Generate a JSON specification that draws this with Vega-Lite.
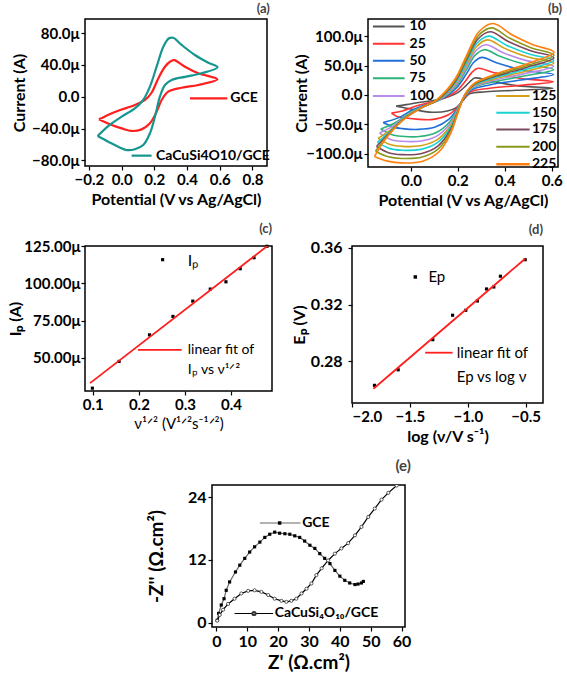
{
"$schema": "https://vega.github.io/schema/vega-lite/v6.json",
"padding": {"left": 6, "top": 2, "right": 0, "bottom": 0},
"background": "white",
"config": {
  "font": "Lato",
  "view": {"stroke": "black", "strokeWidth": 1.5},
  "axis": {"grid": false, "domain": false, "labelOverlap": false, "tickColor": "black", "tickSize": 4, "tickWidth": 1.2, "labelFont": "Lato", "labelFontWeight": "bold", "labelFontSize": 15, "labelColor": "black", "titleFont": "Lato", "titleFontWeight": "bold", "titleFontSize": 16, "titleColor": "black", "labelPadding": 2, "titlePadding": 4},
  "title": {"anchor": "end", "font": "Lato", "fontSize": 13, "fontWeight": "bold", "color": "#444", "offset": 3},
  "text": {"font": "Lato", "color": "black"}
},
"resolve": {"scale": {"color": "independent", "strokeWidth": "independent"}},
"concat": [
 {"hconcat": [
   {
    "width": 182, "height": 147,
    "title": {"text": "(a)"},
    "layer": [
     {"data": {"values": [
      {"s":"GCE","i":0,"v":-0.139,"c":-28.4},{"s":"GCE","i":1,"v":-0.08,"c":-22.5},{"s":"GCE","i":2,"v":-0.021,"c":-17.6},{"s":"GCE","i":3,"v":0.081,"c":-10.4},{"s":"GCE","i":4,"v":0.143,"c":-4.1},{"s":"GCE","i":5,"v":0.183,"c":5},{"s":"GCE","i":6,"v":0.224,"c":23},{"s":"GCE","i":7,"v":0.265,"c":37.7},{"s":"GCE","i":8,"v":0.3,"c":44.5},{"s":"GCE","i":9,"v":0.322,"c":46},{"s":"GCE","i":10,"v":0.387,"c":37.7},{"s":"GCE","i":11,"v":0.469,"c":29.4},{"s":"GCE","i":12,"v":0.585,"c":21.8},{"s":"GCE","i":13,"v":0.469,"c":14.7},{"s":"GCE","i":14,"v":0.367,"c":11.3},{"s":"GCE","i":15,"v":0.285,"c":6.3},{"s":"GCE","i":16,"v":0.245,"c":-4.1},{"s":"GCE","i":17,"v":0.214,"c":-18.8},{"s":"GCE","i":18,"v":0.173,"c":-33.4},{"s":"GCE","i":19,"v":0.122,"c":-41},{"s":"GCE","i":20,"v":0.061,"c":-43},{"s":"GCE","i":21,"v":0,"c":-39.7},{"s":"GCE","i":22,"v":-0.061,"c":-35.5},{"s":"GCE","i":23,"v":-0.139,"c":-28.4},
      {"s":"CaCu","i":0,"v":-0.147,"c":-49.4},{"s":"CaCu","i":1,"v":-0.082,"c":-36.8},{"s":"CaCu","i":2,"v":0,"c":-25},{"s":"CaCu","i":3,"v":0.081,"c":-14.6},{"s":"CaCu","i":4,"v":0.132,"c":-4.1},{"s":"CaCu","i":5,"v":0.173,"c":12.6},{"s":"CaCu","i":6,"v":0.214,"c":37.7},{"s":"CaCu","i":7,"v":0.255,"c":62.8},{"s":"CaCu","i":8,"v":0.29,"c":73.4},{"s":"CaCu","i":9,"v":0.315,"c":74},{"s":"CaCu","i":10,"v":0.367,"c":65},{"s":"CaCu","i":11,"v":0.448,"c":52.4},{"s":"CaCu","i":12,"v":0.53,"c":42.7},{"s":"CaCu","i":13,"v":0.587,"c":37},{"s":"CaCu","i":14,"v":0.489,"c":29.4},{"s":"CaCu","i":15,"v":0.387,"c":25},{"s":"CaCu","i":16,"v":0.306,"c":21},{"s":"CaCu","i":17,"v":0.265,"c":14.7},{"s":"CaCu","i":18,"v":0.234,"c":0},{"s":"CaCu","i":19,"v":0.204,"c":-25},{"s":"CaCu","i":20,"v":0.173,"c":-46},{"s":"CaCu","i":21,"v":0.132,"c":-60.7},{"s":"CaCu","i":22,"v":0.081,"c":-66},{"s":"CaCu","i":23,"v":0.031,"c":-67},{"s":"CaCu","i":24,"v":-0.021,"c":-62.8},{"s":"CaCu","i":25,"v":-0.082,"c":-56.5},{"s":"CaCu","i":26,"v":-0.147,"c":-49.4}
     ]},
     "mark": {"type": "line", "interpolate": "catmull-rom", "strokeWidth": 2.2, "clip": true},
     "encoding": {
      "x": {"field": "v", "type": "quantitative", "scale": {"domain": [-0.224, 0.889], "nice": false, "zero": false}, "axis": {"values": [-0.2,0,0.2,0.4,0.6,0.8], "tickCount": 30, "format": ".1f", "title": "Potential (V vs Ag/AgCl)", "labelOverlap": false}},
      "y": {"field": "c", "type": "quantitative", "scale": {"domain": [-87, 97.6], "nice": false, "zero": false}, "axis": {"values": [-80,-40,0,40,80], "tickCount": 30, "labelExpr": "datum.value == 0 ? '0.0' : format(datum.value, '.1f') + 'μ'", "title": "Current (A)", "titleX": -58, "labelOverlap": false}},
      "color": {"field": "s", "type": "nominal", "scale": {"domain": ["GCE","CaCu"], "range": ["#ff1f1f","#16968f"]}, "legend": null},
      "order": {"field": "i", "type": "quantitative"}
     }},
     {"data": {"values": [{}]}, "mark": {"type": "rule", "color": "#ff1f1f", "strokeWidth": 2.2}, "encoding": {"x": {"datum": 0.418}, "x2": {"datum": 0.646}, "y": {"datum": -2}}},
     {"data": {"values": [{}]}, "mark": {"type": "text", "align": "left", "baseline": "middle", "fontSize": 14, "fontWeight": "bold"}, "encoding": {"x": {"datum": 0.665}, "y": {"datum": -2}, "text": {"value": "GCE"}}},
     {"data": {"values": [{}]}, "mark": {"type": "rule", "color": "#16968f", "strokeWidth": 2.2}, "encoding": {"x": {"datum": 0.061}, "x2": {"datum": 0.183}, "y": {"datum": -74}}},
     {"data": {"values": [{}]}, "mark": {"type": "text", "align": "left", "baseline": "middle", "fontSize": 14, "fontWeight": "bold"}, "encoding": {"x": {"datum": 0.21}, "y": {"datum": -74}, "text": {"value": "CaCuSi4O10/GCE"}}}
    ]
   },
   {
    "width": 190, "height": 148,
    "title": {"text": "(b)"},
    "layer": [
     {"data": {"values": [
      {"s":"10","i":0,"v":-0.063,"c":-19},{"s":"10","i":1,"v":-0.02,"c":-16.5},{"s":"10","i":2,"v":0.04,"c":-12.5},{"s":"10","i":3,"v":0.108,"c":-8.6},{"s":"10","i":4,"v":0.16,"c":-3},{"s":"10","i":5,"v":0.2,"c":4},{"s":"10","i":6,"v":0.235,"c":16},{"s":"10","i":7,"v":0.255,"c":24},{"s":"10","i":8,"v":0.272,"c":29},{"s":"10","i":9,"v":0.33,"c":25},{"s":"10","i":10,"v":0.45,"c":16},{"s":"10","i":11,"v":0.606,"c":11.5},{"s":"10","i":12,"v":0.45,"c":8},{"s":"10","i":13,"v":0.32,"c":5.5},{"s":"10","i":14,"v":0.25,"c":2},{"s":"10","i":15,"v":0.225,"c":-8},{"s":"10","i":16,"v":0.195,"c":-21},{"s":"10","i":17,"v":0.155,"c":-27.5},{"s":"10","i":18,"v":0.09,"c":-29.5},{"s":"10","i":19,"v":0.02,"c":-25.5},{"s":"10","i":20,"v":-0.035,"c":-21.5},{"s":"10","i":21,"v":-0.05,"c":-20},{"s":"10","i":22,"v":-0.063,"c":-19},
      {"s":"25","i":0,"v":-0.083,"c":-31},{"s":"25","i":1,"v":-0.036,"c":-27.2},{"s":"25","i":2,"v":0.026,"c":-18.4},{"s":"25","i":3,"v":0.096,"c":-11.2},{"s":"25","i":4,"v":0.151,"c":-4},{"s":"25","i":5,"v":0.198,"c":8},{"s":"25","i":6,"v":0.236,"c":25.7},{"s":"25","i":7,"v":0.261,"c":39.1},{"s":"25","i":8,"v":0.286,"c":45.7},{"s":"25","i":9,"v":0.348,"c":39},{"s":"25","i":10,"v":0.463,"c":28.6},{"s":"25","i":11,"v":0.607,"c":22.6},{"s":"25","i":12,"v":0.459,"c":16.3},{"s":"25","i":13,"v":0.329,"c":11.2},{"s":"25","i":14,"v":0.254,"c":5.2},{"s":"25","i":15,"v":0.226,"c":-6.2},{"s":"25","i":16,"v":0.197,"c":-21.7},{"s":"25","i":17,"v":0.158,"c":-34.3},{"s":"25","i":18,"v":0.095,"c":-41.7},{"s":"25","i":19,"v":0.025,"c":-41.3},{"s":"25","i":20,"v":-0.036,"c":-38.5},{"s":"25","i":21,"v":-0.059,"c":-36.7},{"s":"25","i":22,"v":-0.083,"c":-31},
      {"s":"50","i":0,"v":-0.119,"c":-47},{"s":"50","i":1,"v":-0.054,"c":-39.1},{"s":"50","i":2,"v":0.01,"c":-24.9},{"s":"50","i":3,"v":0.082,"c":-14.1},{"s":"50","i":4,"v":0.14,"c":-5.1},{"s":"50","i":5,"v":0.195,"c":12.4},{"s":"50","i":6,"v":0.237,"c":36.5},{"s":"50","i":7,"v":0.268,"c":55.9},{"s":"50","i":8,"v":0.302,"c":64.3},{"s":"50","i":9,"v":0.368,"c":54.6},{"s":"50","i":10,"v":0.477,"c":42.6},{"s":"50","i":11,"v":0.608,"c":34.9},{"s":"50","i":12,"v":0.469,"c":25.5},{"s":"50","i":13,"v":0.339,"c":17.5},{"s":"50","i":14,"v":0.258,"c":8.8},{"s":"50","i":15,"v":0.228,"c":-4.2},{"s":"50","i":16,"v":0.199,"c":-22.5},{"s":"50","i":17,"v":0.161,"c":-41.8},{"s":"50","i":18,"v":0.101,"c":-55.2},{"s":"50","i":19,"v":0.031,"c":-58.8},{"s":"50","i":20,"v":-0.037,"c":-57.4},{"s":"50","i":21,"v":-0.069,"c":-55.3},{"s":"50","i":22,"v":-0.119,"c":-47},
      {"s":"75","i":0,"v":-0.129,"c":-58},{"s":"75","i":1,"v":-0.067,"c":-47.4},{"s":"75","i":2,"v":-0.002,"c":-29.4},{"s":"75","i":3,"v":0.073,"c":-16.1},{"s":"75","i":4,"v":0.133,"c":-5.9},{"s":"75","i":5,"v":0.193,"c":15.4},{"s":"75","i":6,"v":0.238,"c":44.1},{"s":"75","i":7,"v":0.273,"c":67.7},{"s":"75","i":8,"v":0.313,"c":77.4},{"s":"75","i":9,"v":0.382,"c":65.6},{"s":"75","i":10,"v":0.486,"c":52.4},{"s":"75","i":11,"v":0.608,"c":43.5},{"s":"75","i":12,"v":0.476,"c":31.9},{"s":"75","i":13,"v":0.346,"c":21.9},{"s":"75","i":14,"v":0.26,"c":11.4},{"s":"75","i":15,"v":0.229,"c":-2.8},{"s":"75","i":16,"v":0.2,"c":-23.1},{"s":"75","i":17,"v":0.163,"c":-47},{"s":"75","i":18,"v":0.106,"c":-64.6},{"s":"75","i":19,"v":0.036,"c":-71},{"s":"75","i":20,"v":-0.038,"c":-70.6},{"s":"75","i":21,"v":-0.076,"c":-68.4},{"s":"75","i":22,"v":-0.129,"c":-58},
      {"s":"100","i":0,"v":-0.134,"c":-65},{"s":"100","i":1,"v":-0.075,"c":-52.8},{"s":"100","i":2,"v":-0.009,"c":-32.3},{"s":"100","i":3,"v":0.067,"c":-17.4},{"s":"100","i":4,"v":0.128,"c":-6.4},{"s":"100","i":5,"v":0.192,"c":17.4},{"s":"100","i":6,"v":0.238,"c":48.9},{"s":"100","i":7,"v":0.276,"c":75.2},{"s":"100","i":8,"v":0.32,"c":85.7},{"s":"100","i":9,"v":0.391,"c":72.6},{"s":"100","i":10,"v":0.493,"c":58.7},{"s":"100","i":11,"v":0.608,"c":49},{"s":"100","i":12,"v":0.481,"c":36.1},{"s":"100","i":13,"v":0.351,"c":24.7},{"s":"100","i":14,"v":0.262,"c":13},{"s":"100","i":15,"v":0.229,"c":-1.9},{"s":"100","i":16,"v":0.201,"c":-23.4},{"s":"100","i":17,"v":0.164,"c":-50.4},{"s":"100","i":18,"v":0.108,"c":-70.7},{"s":"100","i":19,"v":0.038,"c":-78.9},{"s":"100","i":20,"v":-0.038,"c":-79.1},{"s":"100","i":21,"v":-0.081,"c":-76.7},{"s":"100","i":22,"v":-0.134,"c":-65},
      {"s":"125","i":0,"v":-0.14,"c":-74},{"s":"125","i":1,"v":-0.083,"c":-58.2},{"s":"125","i":2,"v":-0.016,"c":-35.3},{"s":"125","i":3,"v":0.06,"c":-18.7},{"s":"125","i":4,"v":0.124,"c":-6.9},{"s":"125","i":5,"v":0.19,"c":19.4},{"s":"125","i":6,"v":0.239,"c":53.8},{"s":"125","i":7,"v":0.28,"c":82.8},{"s":"125","i":8,"v":0.327,"c":94.1},{"s":"125","i":9,"v":0.4,"c":79.6},{"s":"125","i":10,"v":0.499,"c":65},{"s":"125","i":11,"v":0.609,"c":54.5},{"s":"125","i":12,"v":0.485,"c":40.2},{"s":"125","i":13,"v":0.355,"c":27.5},{"s":"125","i":14,"v":0.264,"c":14.6},{"s":"125","i":15,"v":0.23,"c":-1},{"s":"125","i":16,"v":0.202,"c":-23.8},{"s":"125","i":17,"v":0.166,"c":-53.8},{"s":"125","i":18,"v":0.111,"c":-76.8},{"s":"125","i":19,"v":0.041,"c":-86.8},{"s":"125","i":20,"v":-0.039,"c":-87.7},{"s":"125","i":21,"v":-0.085,"c":-85.1},{"s":"125","i":22,"v":-0.14,"c":-74},
      {"s":"150","i":0,"v":-0.143,"c":-81},{"s":"150","i":1,"v":-0.089,"c":-62.3},{"s":"150","i":2,"v":-0.022,"c":-37.5},{"s":"150","i":3,"v":0.056,"c":-19.7},{"s":"150","i":4,"v":0.12,"c":-7.3},{"s":"150","i":5,"v":0.189,"c":20.9},{"s":"150","i":6,"v":0.239,"c":57.6},{"s":"150","i":7,"v":0.282,"c":88.7},{"s":"150","i":8,"v":0.332,"c":100.6},{"s":"150","i":9,"v":0.407,"c":85.1},{"s":"150","i":10,"v":0.504,"c":69.9},{"s":"150","i":11,"v":0.609,"c":58.9},{"s":"150","i":12,"v":0.489,"c":43.4},{"s":"150","i":13,"v":0.359,"c":29.8},{"s":"150","i":14,"v":0.265,"c":15.9},{"s":"150","i":15,"v":0.23,"c":-0.3},{"s":"150","i":16,"v":0.203,"c":-24.1},{"s":"150","i":17,"v":0.167,"c":-56.4},{"s":"150","i":18,"v":0.113,"c":-81.5},{"s":"150","i":19,"v":0.043,"c":-92.9},{"s":"150","i":20,"v":-0.039,"c":-94.3},{"s":"150","i":21,"v":-0.089,"c":-91.6},{"s":"150","i":22,"v":-0.143,"c":-81},
      {"s":"175","i":0,"v":-0.147,"c":-88},{"s":"175","i":1,"v":-0.097,"c":-67.1},{"s":"175","i":2,"v":-0.028,"c":-40.1},{"s":"175","i":3,"v":0.05,"c":-20.8},{"s":"175","i":4,"v":0.116,"c":-7.8},{"s":"175","i":5,"v":0.188,"c":22.7},{"s":"175","i":6,"v":0.239,"c":61.9},{"s":"175","i":7,"v":0.285,"c":95.4},{"s":"175","i":8,"v":0.338,"c":108},{"s":"175","i":9,"v":0.415,"c":91.3},{"s":"175","i":10,"v":0.51,"c":75.5},{"s":"175","i":11,"v":0.609,"c":63.8},{"s":"175","i":12,"v":0.493,"c":47.1},{"s":"175","i":13,"v":0.363,"c":32.3},{"s":"175","i":14,"v":0.267,"c":17.3},{"s":"175","i":15,"v":0.231,"c":0.5},{"s":"175","i":16,"v":0.204,"c":-24.4},{"s":"175","i":17,"v":0.168,"c":-59.4},{"s":"175","i":18,"v":0.116,"c":-86.9},{"s":"175","i":19,"v":0.046,"c":-99.9},{"s":"175","i":20,"v":-0.039,"c":-101.8},{"s":"175","i":21,"v":-0.093,"c":-99},{"s":"175","i":22,"v":-0.147,"c":-88},
      {"s":"200","i":0,"v":-0.151,"c":-96},{"s":"200","i":1,"v":-0.103,"c":-71.2},{"s":"200","i":2,"v":-0.034,"c":-42.4},{"s":"200","i":3,"v":0.045,"c":-21.8},{"s":"200","i":4,"v":0.112,"c":-8.2},{"s":"200","i":5,"v":0.187,"c":24.2},{"s":"200","i":6,"v":0.24,"c":65.7},{"s":"200","i":7,"v":0.287,"c":101.3},{"s":"200","i":8,"v":0.344,"c":114.6},{"s":"200","i":9,"v":0.422,"c":96.8},{"s":"200","i":10,"v":0.514,"c":80.4},{"s":"200","i":11,"v":0.61,"c":68.1},{"s":"200","i":12,"v":0.496,"c":50.3},{"s":"200","i":13,"v":0.366,"c":34.5},{"s":"200","i":14,"v":0.268,"c":18.6},{"s":"200","i":15,"v":0.231,"c":1.2},{"s":"200","i":16,"v":0.204,"c":-24.7},{"s":"200","i":17,"v":0.169,"c":-62},{"s":"200","i":18,"v":0.118,"c":-91.6},{"s":"200","i":19,"v":0.048,"c":-106},{"s":"200","i":20,"v":-0.04,"c":-108.4},{"s":"200","i":21,"v":-0.096,"c":-105.6},{"s":"200","i":22,"v":-0.151,"c":-96},
      {"s":"225","i":0,"v":-0.155,"c":-105},{"s":"225","i":1,"v":-0.11,"c":-76},{"s":"225","i":2,"v":-0.04,"c":-45},{"s":"225","i":3,"v":0.04,"c":-23},{"s":"225","i":4,"v":0.108,"c":-8.6},{"s":"225","i":5,"v":0.186,"c":26},{"s":"225","i":6,"v":0.24,"c":70},{"s":"225","i":7,"v":0.29,"c":108},{"s":"225","i":8,"v":0.35,"c":122},{"s":"225","i":9,"v":0.43,"c":103},{"s":"225","i":10,"v":0.52,"c":86},{"s":"225","i":11,"v":0.61,"c":73},{"s":"225","i":12,"v":0.5,"c":54},{"s":"225","i":13,"v":0.37,"c":37},{"s":"225","i":14,"v":0.27,"c":20},{"s":"225","i":15,"v":0.232,"c":2},{"s":"225","i":16,"v":0.205,"c":-25},{"s":"225","i":17,"v":0.17,"c":-65},{"s":"225","i":18,"v":0.12,"c":-97},{"s":"225","i":19,"v":0.05,"c":-113},{"s":"225","i":20,"v":-0.04,"c":-116},{"s":"225","i":21,"v":-0.1,"c":-113},{"s":"225","i":22,"v":-0.155,"c":-105}
     ]},
     "mark": {"type": "line", "interpolate": "catmull-rom", "clip": true},
     "encoding": {
      "x": {"field": "v", "type": "quantitative", "scale": {"domain": [-0.183, 0.627], "nice": false, "zero": false}, "axis": {"values": [0,0.2,0.4,0.6], "tickCount": 30, "format": ".1f", "title": "Potential (V vs Ag/AgCl)", "labelOverlap": false}},
      "y": {"field": "c", "type": "quantitative", "scale": {"domain": [-123, 129.8], "nice": false, "zero": false}, "axis": {"values": [-100,-50,0,50,100], "tickCount": 30, "labelExpr": "datum.value == 0 ? '0.0' : format(datum.value, '.1f') + 'μ'", "title": "Current (A)", "titleX": -59, "labelOverlap": false}},
      "color": {"field": "s", "type": "nominal", "scale": {"domain": ["10","25","50","75","100","125","150","175","200","225"], "range": ["#555555","#ff3333","#1f6fd8","#2db37a","#b98be8","#d4a017","#19d3d3","#7b4a5e","#8c9a1c","#ff7f0e"]}, "legend": null},
      "strokeWidth": {"field": "s", "type": "ordinal", "scale": {"domain": ["10","25","50","75","100","125","150","175","200","225"], "range": [1.6,1.6,1.6,1.6,1.6,1.6,1.6,1.6,1.6,2.6]}, "legend": null},
      "order": {"field": "i", "type": "quantitative"}
     }},
     {"data": {"values": [{}]}, "mark": {"type": "rule", "color": "#555555", "strokeWidth": 2}, "encoding": {"x": {"datum": -0.162}, "x2": {"datum": -0.027}, "y": {"datum": 117}}},
     {"data": {"values": [{}]}, "mark": {"type": "rule", "color": "#ff3333", "strokeWidth": 2}, "encoding": {"x": {"datum": -0.162}, "x2": {"datum": -0.027}, "y": {"datum": 87.5}}},
     {"data": {"values": [{}]}, "mark": {"type": "rule", "color": "#1f6fd8", "strokeWidth": 2}, "encoding": {"x": {"datum": -0.162}, "x2": {"datum": -0.027}, "y": {"datum": 58.3}}},
     {"data": {"values": [{}]}, "mark": {"type": "rule", "color": "#2db37a", "strokeWidth": 2}, "encoding": {"x": {"datum": -0.162}, "x2": {"datum": -0.027}, "y": {"datum": 28.6}}},
     {"data": {"values": [{}]}, "mark": {"type": "rule", "color": "#b98be8", "strokeWidth": 2}, "encoding": {"x": {"datum": -0.162}, "x2": {"datum": -0.027}, "y": {"datum": -1.7}}},
     {"data": {"values": [{}]}, "mark": {"type": "rule", "color": "#d4a017", "strokeWidth": 2}, "encoding": {"x": {"datum": 0.364}, "x2": {"datum": 0.506}, "y": {"datum": -1.7}}},
     {"data": {"values": [{}]}, "mark": {"type": "rule", "color": "#19d3d3", "strokeWidth": 2}, "encoding": {"x": {"datum": 0.364}, "x2": {"datum": 0.506}, "y": {"datum": -30.3}}},
     {"data": {"values": [{}]}, "mark": {"type": "rule", "color": "#7b4a5e", "strokeWidth": 2}, "encoding": {"x": {"datum": 0.364}, "x2": {"datum": 0.506}, "y": {"datum": -58.8}}},
     {"data": {"values": [{}]}, "mark": {"type": "rule", "color": "#8c9a1c", "strokeWidth": 2}, "encoding": {"x": {"datum": 0.364}, "x2": {"datum": 0.506}, "y": {"datum": -88.6}}},
     {"data": {"values": [{}]}, "mark": {"type": "rule", "color": "#ff7f0e", "strokeWidth": 2.6}, "encoding": {"x": {"datum": 0.364}, "x2": {"datum": 0.506}, "y": {"datum": -118.3}}},
     {"data": {"values": [{}]}, "mark": {"type": "text", "align": "left", "baseline": "middle", "fontSize": 14, "fontWeight": "bold"}, "encoding": {"x": {"datum": -0.006}, "y": {"datum": 117}, "text": {"value": "10"}}},
     {"data": {"values": [{}]}, "mark": {"type": "text", "align": "left", "baseline": "middle", "fontSize": 14, "fontWeight": "bold"}, "encoding": {"x": {"datum": -0.006}, "y": {"datum": 87.5}, "text": {"value": "25"}}},
     {"data": {"values": [{}]}, "mark": {"type": "text", "align": "left", "baseline": "middle", "fontSize": 14, "fontWeight": "bold"}, "encoding": {"x": {"datum": -0.006}, "y": {"datum": 58.3}, "text": {"value": "50"}}},
     {"data": {"values": [{}]}, "mark": {"type": "text", "align": "left", "baseline": "middle", "fontSize": 14, "fontWeight": "bold"}, "encoding": {"x": {"datum": -0.006}, "y": {"datum": 28.6}, "text": {"value": "75"}}},
     {"data": {"values": [{}]}, "mark": {"type": "text", "align": "left", "baseline": "middle", "fontSize": 14, "fontWeight": "bold"}, "encoding": {"x": {"datum": -0.006}, "y": {"datum": -1.7}, "text": {"value": "100"}}},
     {"data": {"values": [{}]}, "mark": {"type": "text", "align": "left", "baseline": "middle", "fontSize": 14, "fontWeight": "bold"}, "encoding": {"x": {"datum": 0.516}, "y": {"datum": -1.7}, "text": {"value": "125"}}},
     {"data": {"values": [{}]}, "mark": {"type": "text", "align": "left", "baseline": "middle", "fontSize": 14, "fontWeight": "bold"}, "encoding": {"x": {"datum": 0.516}, "y": {"datum": -30.3}, "text": {"value": "150"}}},
     {"data": {"values": [{}]}, "mark": {"type": "text", "align": "left", "baseline": "middle", "fontSize": 14, "fontWeight": "bold"}, "encoding": {"x": {"datum": 0.516}, "y": {"datum": -58.8}, "text": {"value": "175"}}},
     {"data": {"values": [{}]}, "mark": {"type": "text", "align": "left", "baseline": "middle", "fontSize": 14, "fontWeight": "bold"}, "encoding": {"x": {"datum": 0.516}, "y": {"datum": -88.6}, "text": {"value": "200"}}},
     {"data": {"values": [{}]}, "mark": {"type": "text", "align": "left", "baseline": "middle", "fontSize": 14, "fontWeight": "bold"}, "encoding": {"x": {"datum": 0.516}, "y": {"datum": -118.3}, "text": {"value": "225"}}}
    ]
   }
 ], "spacing": 21, "resolve": {"scale": {"color": "independent", "strokeWidth": "independent"}}},
 {"hconcat": [
   {
    "width": 187, "height": 145,
    "title": {"text": "(c)"},
    "layer": [
     {"data": {"values": [
      {"x":0.099,"y":29.5},{"x":0.157,"y":47.5},{"x":0.223,"y":65.4},{"x":0.274,"y":77.8},{"x":0.317,"y":88.1},{"x":0.355,"y":96.2},{"x":0.389,"y":101.1},{"x":0.42,"y":109.9},{"x":0.45,"y":117.3},{"x":0.478,"y":125.0}
     ]},
      "mark": {"type": "square", "size": 10, "color": "black", "opacity": 1},
      "encoding": {
       "x": {"field": "x", "type": "quantitative", "scale": {"domain": [0.083, 0.489], "nice": false, "zero": false}, "axis": {"values": [0.1,0.2,0.3,0.4], "tickCount": 30, "format": ".1f", "title": "ν¹ᐟ² (V¹ᐟ²s⁻¹ᐟ²)", "titleFontWeight": "normal", "titleFontSize": 15, "labelOverlap": false}},
       "y": {"field": "y", "type": "quantitative", "scale": {"domain": [27.6, 125.2], "nice": false, "zero": false}, "axis": {"values": [50,75,100,125], "tickCount": 30, "labelExpr": "format(datum.value, '.2f') + 'μ'", "title": "Iₚ (A)", "titleX": -62, "labelPadding": 1, "labelOverlap": false}}
      }},
     {"data": {"values": [{"x":0.094,"y":32.9},{"x":0.481,"y":125.7}]},
      "mark": {"type": "line", "color": "#ff1f1f", "strokeWidth": 1.8, "clip": true},
      "encoding": {"x": {"field": "x", "type": "quantitative"}, "y": {"field": "y", "type": "quantitative"}}},
     {"data": {"values": [{}]}, "mark": {"type": "square", "size": 10, "color": "black", "opacity": 1}, "encoding": {"x": {"datum": 0.2515}, "y": {"datum": 116}}},
     {"data": {"values": [{}]}, "mark": {"type": "text", "align": "left", "baseline": "middle", "fontSize": 16}, "encoding": {"x": {"datum": 0.306}, "y": {"datum": 115}, "text": {"value": "Iₚ"}}},
     {"data": {"values": [{}]}, "mark": {"type": "rule", "color": "#ff1f1f", "strokeWidth": 1.8}, "encoding": {"x": {"datum": 0.198}, "x2": {"datum": 0.293}, "y": {"datum": 55.3}}},
     {"data": {"values": [{}]}, "mark": {"type": "text", "align": "left", "baseline": "middle", "fontSize": 14}, "encoding": {"x": {"datum": 0.306}, "y": {"datum": 55.3}, "text": {"value": "linear fit of"}}},
     {"data": {"values": [{}]}, "mark": {"type": "text", "align": "left", "baseline": "middle", "fontSize": 14}, "encoding": {"x": {"datum": 0.306}, "y": {"datum": 41.8}, "text": {"value": "Iₚ vs ν¹ᐟ²"}}}
    ]
   },
   {
    "width": 191, "height": 157,
    "title": {"text": "(d)"},
    "layer": [
     {"data": {"values": [
      {"x":-1.806,"y":0.2628},{"x":-1.601,"y":0.2738},{"x":-1.302,"y":0.2951},{"x":-1.131,"y":0.3124},{"x":-1.017,"y":0.3159},{"x":-0.917,"y":0.3225},{"x":-0.838,"y":0.331},{"x":-0.775,"y":0.3324},{"x":-0.718,"y":0.34},{"x":-0.504,"y":0.3517}
     ]},
      "mark": {"type": "square", "size": 10, "color": "black", "opacity": 1},
      "encoding": {
       "x": {"field": "x", "type": "quantitative", "scale": {"domain": [-2.0, -0.35], "nice": false, "zero": false}, "axis": {"values": [-2,-1.5,-1,-0.5], "tickCount": 30, "format": ".1f", "title": "log (ν/V s⁻¹)", "labelOverlap": false}},
       "y": {"field": "y", "type": "quantitative", "scale": {"domain": [0.2503, 0.3614], "nice": false, "zero": false}, "axis": {"values": [0.28,0.32,0.36], "tickCount": 30, "format": ".2f", "title": "Eₚ (V)", "labelFontSize": 16, "labelPadding": 6, "titleX": -45, "labelOverlap": false}}
      }},
     {"data": {"values": [{"x":-1.815,"y":0.2604},{"x":-0.504,"y":0.3524}]},
      "mark": {"type": "line", "color": "#ff1f1f", "strokeWidth": 1.8, "clip": true},
      "encoding": {"x": {"field": "x", "type": "quantitative"}, "y": {"field": "y", "type": "quantitative"}}},
     {"data": {"values": [{}]}, "mark": {"type": "square", "size": 12, "color": "black", "opacity": 1}, "encoding": {"x": {"datum": -1.453}, "y": {"datum": 0.3395}}},
     {"data": {"values": [{}]}, "mark": {"type": "text", "align": "left", "baseline": "middle", "fontSize": 15}, "encoding": {"x": {"datum": -1.34}, "y": {"datum": 0.3395}, "text": {"value": "Ep"}}},
     {"data": {"values": [{}]}, "mark": {"type": "rule", "color": "#ff1f1f", "strokeWidth": 1.8}, "encoding": {"x": {"datum": -1.368}, "x2": {"datum": -1.131}, "y": {"datum": 0.2859}}},
     {"data": {"values": [{}]}, "mark": {"type": "text", "align": "left", "baseline": "middle", "fontSize": 15}, "encoding": {"x": {"datum": -1.095}, "y": {"datum": 0.2859}, "text": {"value": "linear fit of"}}},
     {"data": {"values": [{}]}, "mark": {"type": "text", "align": "left", "baseline": "middle", "fontSize": 15}, "encoding": {"x": {"datum": -1.095}, "y": {"datum": 0.2687}, "text": {"value": "Ep vs log ν"}}}
    ]
   }
 ], "spacing": 17},
 {"hconcat": [
  {"width": 31, "height": 10, "data": {"values": [{"a": 0}]}, "mark": {"type": "point", "opacity": 0}, "encoding": {}, "view": {"stroke": null}},
  {
   "width": 193, "height": 142,
   "title": {"text": "(e)", "fontSize": 15, "offset": 11},
   "layer": [
    {"data": {"values": [
     {"i":0,"zr":0.3,"zi":0.5},{"i":1,"zr":0.76,"zi":1.8},{"i":2,"zr":1.6,"zi":3.4},{"i":3,"zr":2.5,"zi":4.6},{"i":4,"zr":3.2,"zi":6.2},{"i":5,"zr":4.3,"zi":7.8},{"i":6,"zr":6.2,"zi":9.7},{"i":7,"zr":7.6,"zi":11.0},{"i":8,"zr":9.2,"zi":12.3},{"i":9,"zr":10.8,"zi":13.5},{"i":10,"zr":12.4,"zi":14.5},{"i":11,"zr":14.1,"zi":15.4},{"i":12,"zr":15.7,"zi":16.3},{"i":13,"zr":17.3,"zi":16.9},{"i":14,"zr":18.9,"zi":17.3},{"i":15,"zr":20.5,"zi":17.1},{"i":16,"zr":22.2,"zi":17.0},{"i":17,"zr":23.8,"zi":16.9},{"i":18,"zr":25.4,"zi":16.6},{"i":19,"zr":27.0,"zi":16.3},{"i":20,"zr":28.6,"zi":15.6},{"i":21,"zr":30.3,"zi":14.8},{"i":22,"zr":31.9,"zi":14.2},{"i":23,"zr":33.5,"zi":13.2},{"i":24,"zr":35.1,"zi":12.3},{"i":25,"zr":36.8,"zi":11.3},{"i":26,"zr":38.4,"zi":10.0},{"i":27,"zr":40.0,"zi":8.9},{"i":28,"zr":41.6,"zi":8.1},{"i":29,"zr":43.2,"zi":7.6},{"i":30,"zr":44.9,"zi":7.3},{"i":31,"zr":45.9,"zi":7.4},{"i":32,"zr":47.0,"zi":7.6},{"i":33,"zr":47.6,"zi":7.9}
    ]},
     "mark": {"type": "line", "color": "#666666", "strokeWidth": 1.2, "clip": true, "point": {"filled": true, "shape": "square", "size": 10, "color": "black"}},
     "encoding": {
      "x": {"field": "zr", "type": "quantitative", "scale": {"domain": [-1.4, 61.1], "nice": false, "zero": false}, "axis": {"values": [0,10,20,30,40,50,60], "tickCount": 30, "title": "Z' (Ω.cm²)", "titleFontSize": 19, "labelFontSize": 16, "labelOverlap": false}},
      "y": {"field": "zi", "type": "quantitative", "scale": {"domain": [-0.8, 26.3], "nice": false, "zero": false}, "axis": {"values": [0,12,24], "tickCount": 30, "title": "-Z'' (Ω.cm²)", "titleFontSize": 19, "labelFontSize": 16, "titleX": -46, "labelOverlap": false}},
      "order": {"field": "i", "type": "quantitative"}
     }},
    {"data": {"values": [
     {"i":0,"zr":0.3,"zi":0.4},{"i":1,"zr":1.1,"zi":1.5},{"i":2,"zr":2.2,"zi":2.5},{"i":3,"zr":3.8,"zi":3.6},{"i":4,"zr":5.9,"zi":4.6},{"i":5,"zr":8.1,"zi":5.6},{"i":6,"zr":10.3,"zi":6.1},{"i":7,"zr":12.4,"zi":6.2},{"i":8,"zr":14.6,"zi":5.9},{"i":9,"zr":16.8,"zi":5.3},{"i":10,"zr":18.9,"zi":4.6},{"i":11,"zr":21.1,"zi":4.2},{"i":12,"zr":22.7,"zi":4.0},{"i":13,"zr":24.3,"zi":4.2},{"i":14,"zr":25.9,"zi":4.6},{"i":15,"zr":27.6,"zi":5.6},{"i":16,"zr":29.2,"zi":6.5},{"i":17,"zr":30.8,"zi":7.5},{"i":18,"zr":32.4,"zi":9.1},{"i":19,"zr":34.1,"zi":10.4},{"i":20,"zr":36.2,"zi":11.9},{"i":21,"zr":38.4,"zi":13.2},{"i":22,"zr":40.5,"zi":14.2},{"i":23,"zr":42.7,"zi":15.2},{"i":24,"zr":44.9,"zi":16.7},{"i":25,"zr":47.0,"zi":18.3},{"i":26,"zr":49.2,"zi":20.2},{"i":27,"zr":51.3,"zi":21.8},{"i":28,"zr":53.5,"zi":23.5},{"i":29,"zr":55.7,"zi":24.8},{"i":30,"zr":58.4,"zi":26.2}
    ]},
     "mark": {"type": "line", "color": "black", "strokeWidth": 1.2, "clip": true, "point": {"filled": false, "fill": "white", "stroke": "#333333", "strokeWidth": 0.8, "shape": "circle", "size": 10}},
     "encoding": {
      "x": {"field": "zr", "type": "quantitative"},
      "y": {"field": "zi", "type": "quantitative"},
      "order": {"field": "i", "type": "quantitative"}
     }},
    {"data": {"values": [{}]}, "mark": {"type": "rule", "color": "#666666", "strokeWidth": 1.2}, "encoding": {"x": {"datum": 14.1}, "x2": {"datum": 27.3}, "y": {"datum": 19.05}}},
    {"data": {"values": [{}]}, "mark": {"type": "square", "size": 12, "color": "black", "opacity": 1}, "encoding": {"x": {"datum": 20.5}, "y": {"datum": 19.05}}},
    {"data": {"values": [{}]}, "mark": {"type": "text", "align": "left", "baseline": "middle", "fontSize": 14, "fontWeight": "bold"}, "encoding": {"x": {"datum": 27.8}, "y": {"datum": 19.05}, "text": {"value": "GCE"}}},
    {"data": {"values": [{}]}, "mark": {"type": "rule", "color": "black", "strokeWidth": 1.2}, "encoding": {"x": {"datum": 5.9}, "x2": {"datum": 18.4}, "y": {"datum": 1.78}}},
    {"data": {"values": [{}]}, "mark": {"type": "point", "shape": "circle", "size": 10, "filled": false, "fill": "white", "stroke": "#333333", "opacity": 1}, "encoding": {"x": {"datum": 12.2}, "y": {"datum": 1.78}}},
    {"data": {"values": [{}]}, "mark": {"type": "text", "align": "left", "baseline": "middle", "fontSize": 14, "fontWeight": "bold"}, "encoding": {"x": {"datum": 18.9}, "y": {"datum": 1.78}, "text": {"value": "CaCuSi₄O₁₀/GCE"}}}
   ]
  }
 ], "spacing": 30}
], "columns": 1, "spacing": 13
}
